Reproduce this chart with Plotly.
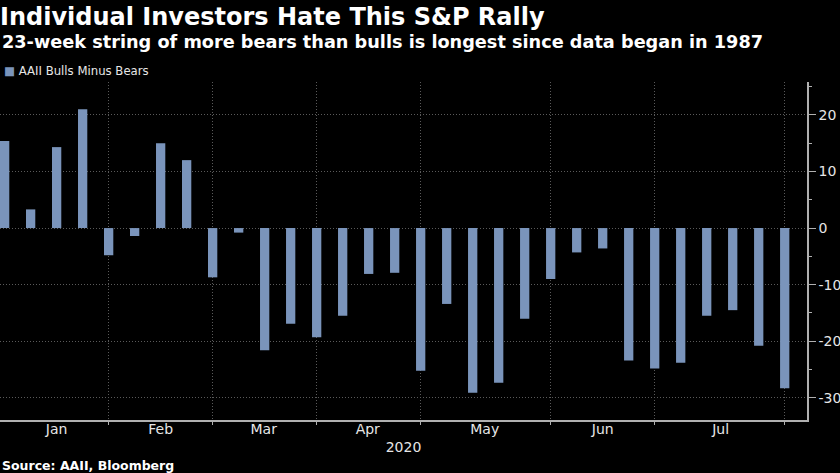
import plotly.graph_objects as go

week_dates = ["2020-01-02","2020-01-09","2020-01-16","2020-01-23","2020-01-30","2020-02-06","2020-02-13","2020-02-20","2020-02-27",
              "2020-03-05","2020-03-12","2020-03-19","2020-03-26","2020-04-02","2020-04-09","2020-04-16","2020-04-23","2020-04-30",
              "2020-05-07","2020-05-14","2020-05-21","2020-05-28","2020-06-04","2020-06-11","2020-06-18","2020-06-25",
              "2020-07-02","2020-07-09","2020-07-16","2020-07-23","2020-07-30"]
bulls_minus_bears = [15.4,3.3,14.3,21.0,-4.8,-1.4,15.0,12.0,-8.7,-0.8,-21.6,-16.9,-19.3,-15.5,-8.1,-7.9,-25.2,-13.4,
                     -29.1,-27.3,-16.0,-9.0,-4.3,-3.6,-23.4,-24.8,-23.8,-15.5,-14.5,-20.8,-28.3]
month_labels = ["Jan","Feb","Mar","Apr","May","Jun","Jul"]
month_label_dates = ["2020-01-16","2020-02-13","2020-03-11 18:00","2020-04-08 18:00","2020-05-10 06:00","2020-06-11","2020-07-12 18:00"]
month_boundaries = ["2020-01-30","2020-02-27","2020-03-26","2020-04-23","2020-05-28","2020-06-25","2020-07-30"]
y_ticks = [20,10,0,-10,-20,-30]
y_labels = ["20","10","0","-10","-20","-30"]

BAR = "#7a94bb"
GRID = "#5a5a5a"
AXIS = "#b0b0b0"
TEXT = "#e6e6e6"
FONT = "DejaVu Sans"
DOT = "1px,2px"

fig = go.Figure(go.Bar(x=week_dates, y=bulls_minus_bears, marker=dict(color=BAR, line_width=0),
                       width=2.5*86400000, name="AAII Bulls Minus Bears", showlegend=False))

fig.update_layout(
    width=840, height=473, margin=dict(l=0, r=33, t=82, b=53),
    paper_bgcolor="#000000", plot_bgcolor="#000000",
    font=dict(family=FONT, color=TEXT, size=13),
    showlegend=False,
    title=dict(text="<b>Individual Investors Hate This S&P Rally</b>", x=0.0, xref="paper", xanchor="left",
               y=0.964, yanchor="middle", font=dict(size=24, color="#ffffff", family=FONT)),
    xaxis=dict(type="date", range=["2019-12-31 18:00","2020-08-05"],
               tickvals=month_label_dates, ticktext=month_labels, ticks="", showgrid=False, ticklabelstandoff=-5,
               tickfont=dict(size=14, color=TEXT), showline=True, linecolor=AXIS, linewidth=1.5, zeroline=False,
               title=dict(text="2020", font=dict(size=14, color=TEXT), standoff=7),
               minor=dict(tickvals=month_boundaries, ticks="outside", ticklen=3, tickcolor=AXIS, tickwidth=1,
                          showgrid=True, gridcolor=GRID, griddash=DOT, gridwidth=1)),
    yaxis=dict(side="right", range=[-33.9,25.8], tickvals=y_ticks, ticktext=y_labels, ticks="outside", ticklen=7,
               tickcolor=AXIS, tickwidth=1, tickfont=dict(size=14, color=TEXT), showgrid=True, gridcolor=GRID,
               griddash=DOT, gridwidth=1, zeroline=False, showline=True, linecolor=AXIS, linewidth=1.5,
               minor=dict(dtick=5, tick0=0, ticks="outside", ticklen=3, tickcolor=AXIS, tickwidth=1, showgrid=False)),
    annotations=[
        dict(text="<b>23-week string of more bears than bulls is longest since data began in 1987</b>",
             xref="paper", yref="paper", x=0.0, y=1.117, xanchor="left", yanchor="middle", showarrow=False, align="left",
             font=dict(size=17.7, color="#ffffff", family=FONT)),
        dict(text=f"<span style='color:{BAR}'>■</span> AAII Bulls Minus Bears",
             xref="paper", yref="paper", x=0.003, y=1.033, xanchor="left", yanchor="middle", showarrow=False, align="left",
             font=dict(size=11.7, color=TEXT, family=FONT)),
        dict(text="<b>Source: AAII, Bloomberg</b>",
             xref="paper", yref="paper", x=0.0, y=-0.135, xanchor="left", yanchor="middle", showarrow=False, align="left",
             font=dict(size=12.5, color="#ffffff", family=FONT)),
    ],
)
fig.write_html("out.html", config={"displayModeBar": False},
               post_script="document.body.style.margin='0';document.body.style.background='#000';document.documentElement.style.overflow='hidden';")
